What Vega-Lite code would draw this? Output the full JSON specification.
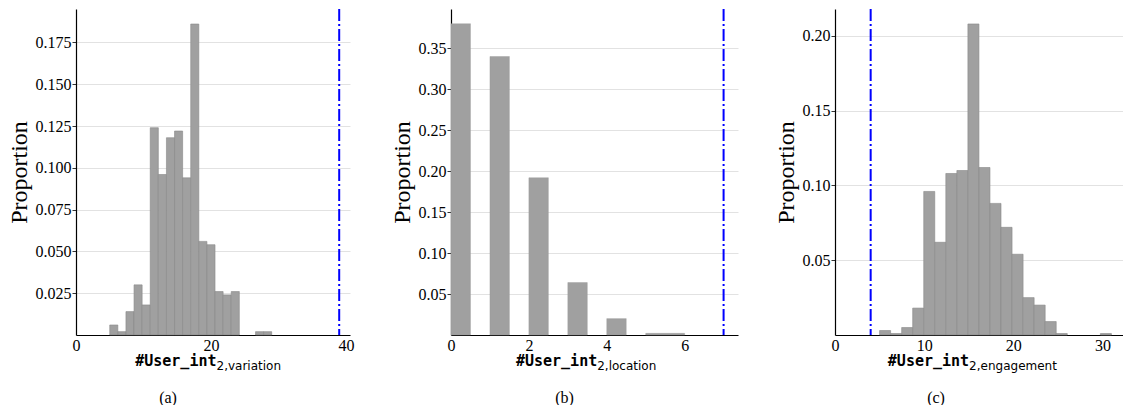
{
  "$schema": "https://vega.github.io/schema/vega-lite/v6.json",
  "padding": {"left": 7, "top": 8, "right": 0, "bottom": 0},
  "spacing": 36,
  "config": {
    "view": {"stroke": null},
    "title": {"font": "Liberation Serif", "fontSize": 16, "fontWeight": "normal", "color": "#000000"}
  },
  "hconcat": [
    {
      "width": 274,
      "height": 326,
      "title": {"text": "(a)", "orient": "bottom", "anchor": "middle", "frame": "group", "dx": -45, "offset": 19},
      "layer": [
        {
          "data": {"values": [
            {"bin_start": 5.0, "bin_end": 6.2, "proportion": 0.006},
            {"bin_start": 6.2, "bin_end": 7.4, "proportion": 0.002},
            {"bin_start": 7.4, "bin_end": 8.6, "proportion": 0.014},
            {"bin_start": 8.6, "bin_end": 9.8, "proportion": 0.030},
            {"bin_start": 9.8, "bin_end": 11.0, "proportion": 0.018},
            {"bin_start": 11.0, "bin_end": 12.2, "proportion": 0.124},
            {"bin_start": 12.2, "bin_end": 13.4, "proportion": 0.096},
            {"bin_start": 13.4, "bin_end": 14.6, "proportion": 0.118},
            {"bin_start": 14.6, "bin_end": 15.8, "proportion": 0.122},
            {"bin_start": 15.8, "bin_end": 17.0, "proportion": 0.094},
            {"bin_start": 17.0, "bin_end": 18.2, "proportion": 0.186},
            {"bin_start": 18.2, "bin_end": 19.4, "proportion": 0.056},
            {"bin_start": 19.4, "bin_end": 20.6, "proportion": 0.054},
            {"bin_start": 20.6, "bin_end": 21.8, "proportion": 0.026},
            {"bin_start": 21.8, "bin_end": 23.0, "proportion": 0.024},
            {"bin_start": 23.0, "bin_end": 24.2, "proportion": 0.026},
            {"bin_start": 26.6, "bin_end": 27.8, "proportion": 0.002},
            {"bin_start": 27.8, "bin_end": 29.0, "proportion": 0.002}
          ]},
          "mark": {"type": "bar", "color": "#a0a0a0", "stroke": "#888888", "strokeWidth": 0.6},
          "encoding": {
            "x": {"field": "bin_start", "type": "quantitative",
              "scale": {"domain": [0, 40.6], "nice": false, "zero": false},
              "axis": {"values": [0, 20, 40], "format": "d", "grid": false, "ticks": false, "labelPadding": 2, "labelFlush": false,
                "labelFont": "Liberation Serif", "labelFontSize": 16, "labelColor": "#000000", "domainColor": "#000000", "domainWidth": 1.2,
                "title": "#User_int", "titleColor": "#000000", "titleFont": "DejaVu Sans Mono", "titleFontWeight": "bold", "titleFontSize": 15,
                "titleAlign": "right", "titleBaseline": "alphabetic", "titleX": 140, "titleY": 30}},
            "x2": {"field": "bin_end"},
            "y": {"field": "proportion", "type": "quantitative",
              "scale": {"domain": [0, 0.195], "nice": false},
              "axis": {"values": [0.025, 0.05, 0.075, 0.1, 0.125, 0.15, 0.175], "format": ".3f", "grid": true, "gridColor": "#e2e2e2", "tickSize": 4, "tickColor": "#333333", "labelPadding": 1,
                "labelFont": "Liberation Serif", "labelFontSize": 16, "labelColor": "#000000", "domainColor": "#000000", "domainWidth": 1.2,
                "title": "Proportion", "titleColor": "#000000", "titleFont": "Liberation Serif", "titleFontSize": 24, "titleFontWeight": "normal", "titlePadding": 4}},
            "y2": {"datum": 0}
          }
        },
        {
          "data": {"values": [{"observed": 39}]},
          "mark": {"type": "rule", "color": "#0000ff", "strokeWidth": 2, "strokeDash": [12, 3, 2, 3]},
          "encoding": {
            "x": {"field": "observed", "type": "quantitative",
              "scale": {"domain": [0, 40.6], "nice": false, "zero": false},
              "axis": {"orient": "bottom", "labels": false, "ticks": false, "domain": false, "grid": false,
                "title": "2,variation", "titleColor": "#000000", "titleFont": "DejaVu Sans", "titleFontWeight": "normal", "titleFontSize": 12,
                "titleAlign": "left", "titleBaseline": "alphabetic", "titleX": 140, "titleY": 34}}
          }
        }
      ],
      "resolve": {"axis": {"x": "independent"}}
    },
    {
      "width": 287,
      "height": 326,
      "title": {"text": "(b)", "orient": "bottom", "anchor": "middle", "frame": "group", "dx": -30, "offset": 19},
      "layer": [
        {
          "data": {"values": [
            {"bin_start": 0, "bin_end": 0.5, "proportion": 0.380},
            {"bin_start": 1, "bin_end": 1.5, "proportion": 0.340},
            {"bin_start": 2, "bin_end": 2.5, "proportion": 0.192},
            {"bin_start": 3, "bin_end": 3.5, "proportion": 0.064},
            {"bin_start": 4, "bin_end": 4.5, "proportion": 0.020},
            {"bin_start": 5, "bin_end": 6, "proportion": 0.002}
          ]},
          "mark": {"type": "bar", "color": "#a0a0a0", "stroke": "#999999", "strokeWidth": 0.4},
          "encoding": {
            "x": {"field": "bin_start", "type": "quantitative",
              "scale": {"domain": [0, 7.37], "nice": false, "zero": false},
              "axis": {"values": [0, 2, 4, 6], "format": "d", "grid": false, "ticks": false, "labelPadding": 2, "labelFlush": false,
                "labelFont": "Liberation Serif", "labelFontSize": 16, "labelColor": "#000000", "domainColor": "#000000", "domainWidth": 1.2,
                "title": "#User_int", "titleColor": "#000000", "titleFont": "DejaVu Sans Mono", "titleFontWeight": "bold", "titleFontSize": 15,
                "titleAlign": "right", "titleBaseline": "alphabetic", "titleX": 145.7, "titleY": 30}},
            "x2": {"field": "bin_end"},
            "y": {"field": "proportion", "type": "quantitative",
              "scale": {"domain": [0, 0.398], "nice": false},
              "axis": {"values": [0.05, 0.1, 0.15, 0.2, 0.25, 0.3, 0.35], "format": ".2f", "grid": true, "gridColor": "#e2e2e2", "tickSize": 4, "tickColor": "#333333", "labelPadding": 1,
                "labelFont": "Liberation Serif", "labelFontSize": 16, "labelColor": "#000000", "domainColor": "#000000", "domainWidth": 1.2,
                "title": "Proportion", "titleColor": "#000000", "titleFont": "Liberation Serif", "titleFontSize": 24, "titleFontWeight": "normal", "titlePadding": 4}},
            "y2": {"datum": 0}
          }
        },
        {
          "data": {"values": [{"observed": 7}]},
          "mark": {"type": "rule", "color": "#0000ff", "strokeWidth": 2, "strokeDash": [12, 3, 2, 3]},
          "encoding": {
            "x": {"field": "observed", "type": "quantitative",
              "scale": {"domain": [0, 7.37], "nice": false, "zero": false},
              "axis": {"orient": "bottom", "labels": false, "ticks": false, "domain": false, "grid": false,
                "title": "2,location", "titleColor": "#000000", "titleFont": "DejaVu Sans", "titleFontWeight": "normal", "titleFontSize": 12,
                "titleAlign": "left", "titleBaseline": "alphabetic", "titleX": 145.7, "titleY": 34}}
          }
        }
      ],
      "resolve": {"axis": {"x": "independent"}}
    },
    {
      "width": 288,
      "height": 326,
      "title": {"text": "(c)", "orient": "bottom", "anchor": "middle", "frame": "group", "dx": -43, "offset": 19},
      "layer": [
        {
          "data": {"values": [
            {"bin_start": 5.0, "bin_end": 6.238, "proportion": 0.003},
            {"bin_start": 6.238, "bin_end": 7.476, "proportion": 0.001},
            {"bin_start": 7.476, "bin_end": 8.714, "proportion": 0.005},
            {"bin_start": 8.714, "bin_end": 9.952, "proportion": 0.018},
            {"bin_start": 9.952, "bin_end": 11.19, "proportion": 0.096},
            {"bin_start": 11.19, "bin_end": 12.429, "proportion": 0.062},
            {"bin_start": 12.429, "bin_end": 13.667, "proportion": 0.108},
            {"bin_start": 13.667, "bin_end": 14.905, "proportion": 0.110},
            {"bin_start": 14.905, "bin_end": 16.143, "proportion": 0.208},
            {"bin_start": 16.143, "bin_end": 17.381, "proportion": 0.112},
            {"bin_start": 17.381, "bin_end": 18.619, "proportion": 0.088},
            {"bin_start": 18.619, "bin_end": 19.857, "proportion": 0.072},
            {"bin_start": 19.857, "bin_end": 21.095, "proportion": 0.054},
            {"bin_start": 21.095, "bin_end": 22.333, "proportion": 0.025},
            {"bin_start": 22.333, "bin_end": 23.571, "proportion": 0.020},
            {"bin_start": 23.571, "bin_end": 24.81, "proportion": 0.009},
            {"bin_start": 24.81, "bin_end": 26.048, "proportion": 0.001},
            {"bin_start": 29.762, "bin_end": 31.0, "proportion": 0.001}
          ]},
          "mark": {"type": "bar", "color": "#a0a0a0", "stroke": "#888888", "strokeWidth": 0.6},
          "encoding": {
            "x": {"field": "bin_start", "type": "quantitative",
              "scale": {"domain": [0, 32.3], "nice": false, "zero": false},
              "axis": {"values": [0, 10, 20, 30], "format": "d", "grid": false, "ticks": false, "labelPadding": 2, "labelFlush": false,
                "labelFont": "Liberation Serif", "labelFontSize": 16, "labelColor": "#000000", "domainColor": "#000000", "domainWidth": 1.2,
                "title": "#User_int", "titleColor": "#000000", "titleFont": "DejaVu Sans Mono", "titleFontWeight": "bold", "titleFontSize": 15,
                "titleAlign": "right", "titleBaseline": "alphabetic", "titleX": 133.6, "titleY": 30}},
            "x2": {"field": "bin_end"},
            "y": {"field": "proportion", "type": "quantitative",
              "scale": {"domain": [0, 0.218], "nice": false},
              "axis": {"values": [0.05, 0.1, 0.15, 0.2], "format": ".2f", "grid": true, "gridColor": "#e2e2e2", "tickSize": 4, "tickColor": "#333333", "labelPadding": 1,
                "labelFont": "Liberation Serif", "labelFontSize": 16, "labelColor": "#000000", "domainColor": "#000000", "domainWidth": 1.2,
                "title": "Proportion", "titleColor": "#000000", "titleFont": "Liberation Serif", "titleFontSize": 24, "titleFontWeight": "normal", "titlePadding": 4}},
            "y2": {"datum": 0}
          }
        },
        {
          "data": {"values": [{"observed": 4}]},
          "mark": {"type": "rule", "color": "#0000ff", "strokeWidth": 2, "strokeDash": [12, 3, 2, 3]},
          "encoding": {
            "x": {"field": "observed", "type": "quantitative",
              "scale": {"domain": [0, 32.3], "nice": false, "zero": false},
              "axis": {"orient": "bottom", "labels": false, "ticks": false, "domain": false, "grid": false,
                "title": "2,engagement", "titleColor": "#000000", "titleFont": "DejaVu Sans", "titleFontWeight": "normal", "titleFontSize": 12,
                "titleAlign": "left", "titleBaseline": "alphabetic", "titleX": 133.6, "titleY": 34}}
          }
        }
      ],
      "resolve": {"axis": {"x": "independent"}}
    }
  ]
}
